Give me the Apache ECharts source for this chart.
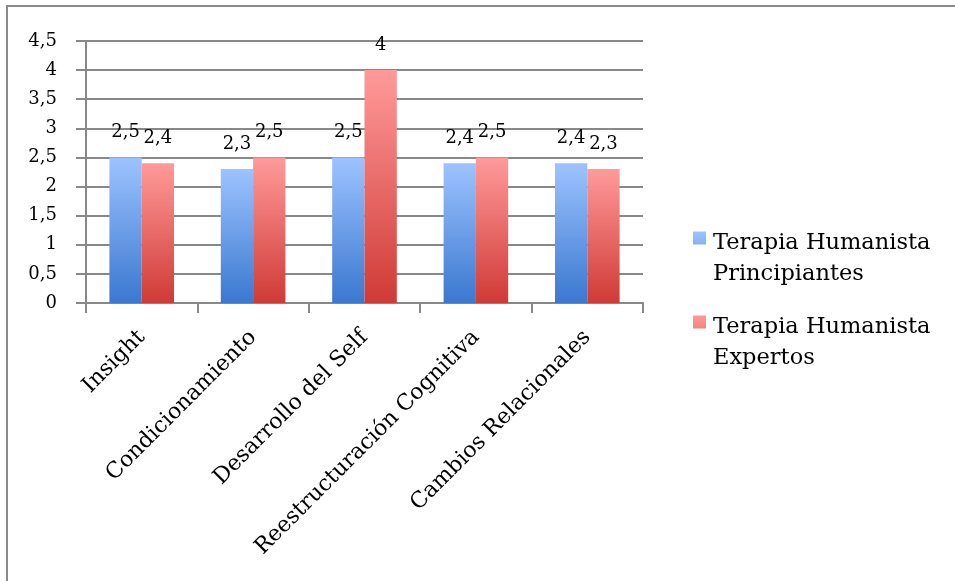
<!DOCTYPE html>
<html>
<head>
<meta charset="utf-8">
<script src="https://cdn.jsdelivr.net/npm/echarts@6/dist/echarts.min.js"></script>
<style>html,body{margin:0;padding:0;background:#fff}#c{width:955px;height:581px}</style>
</head>
<body>
<div id="c"></div>
<script>
const categories = ['Insight', 'Condicionamiento', 'Desarrollo del Self', 'Reestructuración Cognitiva', 'Cambios Relacionales'];
const seriesNames = ['Terapia Humanista\nPrincipiantes', 'Terapia Humanista\nExpertos'];
const principiantes = [2.5, 2.3, 2.5, 2.4, 2.4];
const expertos = [2.4, 2.5, 4, 2.5, 2.3];

const FONT = 'DejaVu Serif';
const fmt = v => String(v).replace('.', ',');
const grad = (top, bottom) => new echarts.graphic.LinearGradient(0, 0, 0, 1, [
  { offset: 0, color: top }, { offset: 1, color: bottom }
]);
const blue = grad('#9dc3ff', '#3a78d0');
const red = grad('#ff9a9a', '#d03a36');

const chart = echarts.init(document.getElementById('c'), null, { renderer: 'canvas' });
chart.setOption({
  animation: false,
  backgroundColor: '#fff',
  graphic: [{
    type: 'polyline',
    shape: { points: [[7, 600], [7, 6], [960, 6]] },
    style: { stroke: '#8a8a8a', lineWidth: 2, fill: null },
    silent: true
  }],
  grid: { left: 86, right: 312, top: 41, bottom: 278, containLabel: false },
  legend: {
    orient: 'vertical',
    left: 688,
    top: 223,
    itemWidth: 13,
    itemHeight: 55,
    itemGap: 22,
    icon: 'path://M0,0L13,0L13,13L0,13Z M0,55L0.01,55L0,55.01Z',
    textStyle: { fontFamily: FONT, fontSize: 22.5, color: '#000', lineHeight: 31, padding: [0, 0, 0, 2] },
    data: seriesNames
  },
  xAxis: {
    type: 'category',
    data: categories,
    axisLine: { lineStyle: { color: '#888', width: 2 } },
    axisTick: { show: true, length: 10, alignWithLabel: false, lineStyle: { color: '#888', width: 2 } },
    axisLabel: { rotate: 45, interval: 0, margin: 31, fontFamily: FONT, fontSize: 22, color: '#000' }
  },
  yAxis: {
    type: 'value',
    min: 0, max: 4.5, interval: 0.5,
    axisLine: { show: true, lineStyle: { color: '#888', width: 2 } },
    axisTick: { show: true, length: 10, lineStyle: { color: '#888', width: 2 } },
    splitLine: { show: true, lineStyle: { color: '#888', width: 2 } },
    axisLabel: { formatter: fmt, margin: 29, fontFamily: FONT, fontSize: 18, color: '#000' }
  },
  series: [
    {
      name: seriesNames[0], type: 'bar', data: principiantes,
      barGap: '0%', barCategoryGap: '42%',
      itemStyle: { color: blue },
      label: { show: true, position: 'top', distance: 16, formatter: p => fmt(p.value), fontFamily: FONT, fontSize: 18, color: '#000' }
    },
    {
      name: seriesNames[1], type: 'bar', data: expertos,
      barGap: '0%', barCategoryGap: '42%',
      itemStyle: { color: red },
      label: { show: true, position: 'top', distance: 16, formatter: p => fmt(p.value), fontFamily: FONT, fontSize: 18, color: '#000' }
    }
  ]
});
</script>
</body>
</html>
